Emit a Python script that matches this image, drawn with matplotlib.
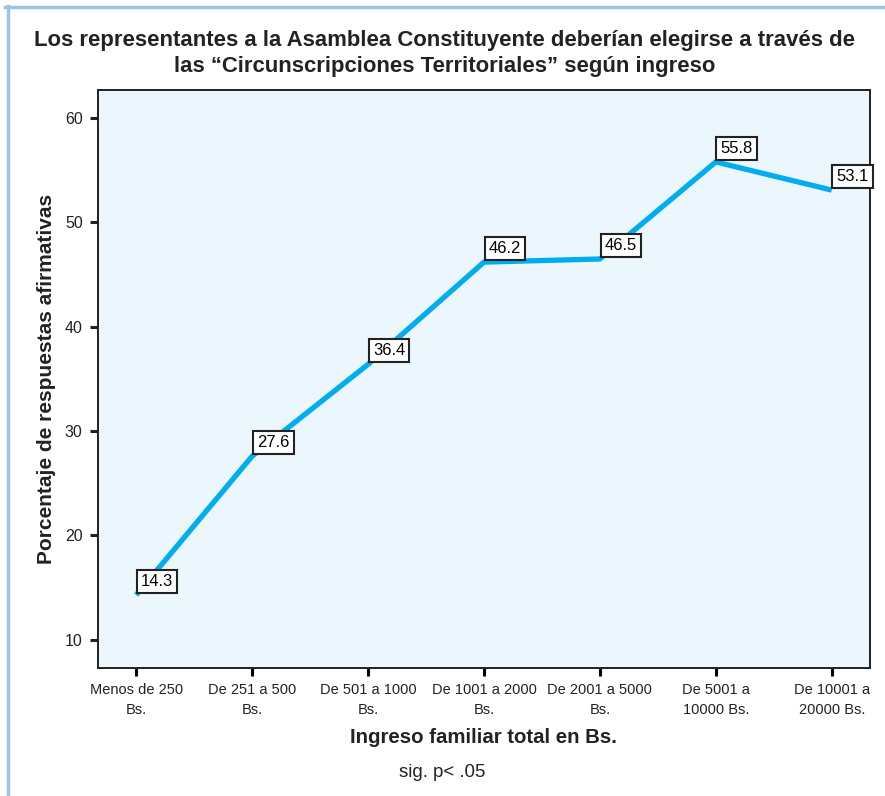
import matplotlib
matplotlib.use("Agg")
import matplotlib.pyplot as plt
from matplotlib.lines import Line2D

plt.rcParams['font.family'] = ['Liberation Sans', 'DejaVu Sans']

categories = ["Menos de 250\nBs.", "De 251 a 500\nBs.", "De 501 a 1000\nBs.",
              "De 1001 a 2000\nBs.", "De 2001 a 5000\nBs.", "De 5001 a\n10000 Bs.",
              "De 10001 a\n20000 Bs."]
values = [14.3, 27.6, 36.4, 46.2, 46.5, 55.8, 53.1]
yticks = [10, 20, 30, 40, 50, 60]

fig = plt.figure(figsize=(8.85, 7.96), dpi=100)
ax = fig.add_axes([0.1107, 0.1608, 0.8723, 0.7262])
ax.set_facecolor("#ebf7fd")

x = list(range(len(values)))
ax.plot(x, values, color="#00aeef", lw=3.8, solid_capstyle="butt", zorder=2)

for xi, v in zip(x, values):
    ax.annotate("%.1f" % v, (xi, v), xytext=(3.5, 4.5), textcoords="offset points",
                ha="left", va="bottom", fontsize=12, zorder=3,
                bbox=dict(boxstyle="square,pad=0.25", fc="white", ec="#222222", lw=1.5))

ax.set_xlim(-0.33, 6.33)
ax.set_ylim(7.3, 62.7)
ax.set_xticks(x)
ax.set_xticklabels(categories, fontsize=10.5, color="#222222", linespacing=1.5)
ax.set_yticks(yticks)
ax.tick_params(axis="y", labelsize=11.5, colors="#222222")
ax.tick_params(length=6, width=2.2, direction="out", pad=5)
for s in ax.spines.values():
    s.set_linewidth(1.4)
    s.set_color("#222222")

ax.set_ylabel("Porcentaje de respuestas afirmativas", fontsize=15, fontweight="bold",
              color="#222222", labelpad=6)
ax.set_xlabel("Ingreso familiar total en Bs.", fontsize=14.7, fontweight="bold",
              color="#222222", labelpad=8)

fig.text(0.502, 0.933, "Los representantes a la Asamblea Constituyente deberían elegirse a través de\n"
         "las \u201cCircunscripciones Territoriales\u201d según ingreso",
         ha="center", va="center", fontsize=15.9, fontweight="bold", color="#222222",
         linespacing=1.35)
fig.text(0.4995, 0.030, "sig. p< .05", ha="center", va="center", fontsize=13.4, color="#222222")

# light blue frame along top and left edges
fig.add_artist(Line2D([0.006, 1.0], [0.991, 0.991], transform=fig.transFigure,
                      color="#9cc4e8", lw=2.5))
fig.add_artist(Line2D([0.009, 0.009], [0.0, 0.993], transform=fig.transFigure,
                      color="#9cc4e8", lw=2.5))

fig.savefig("out.png", dpi=100)
